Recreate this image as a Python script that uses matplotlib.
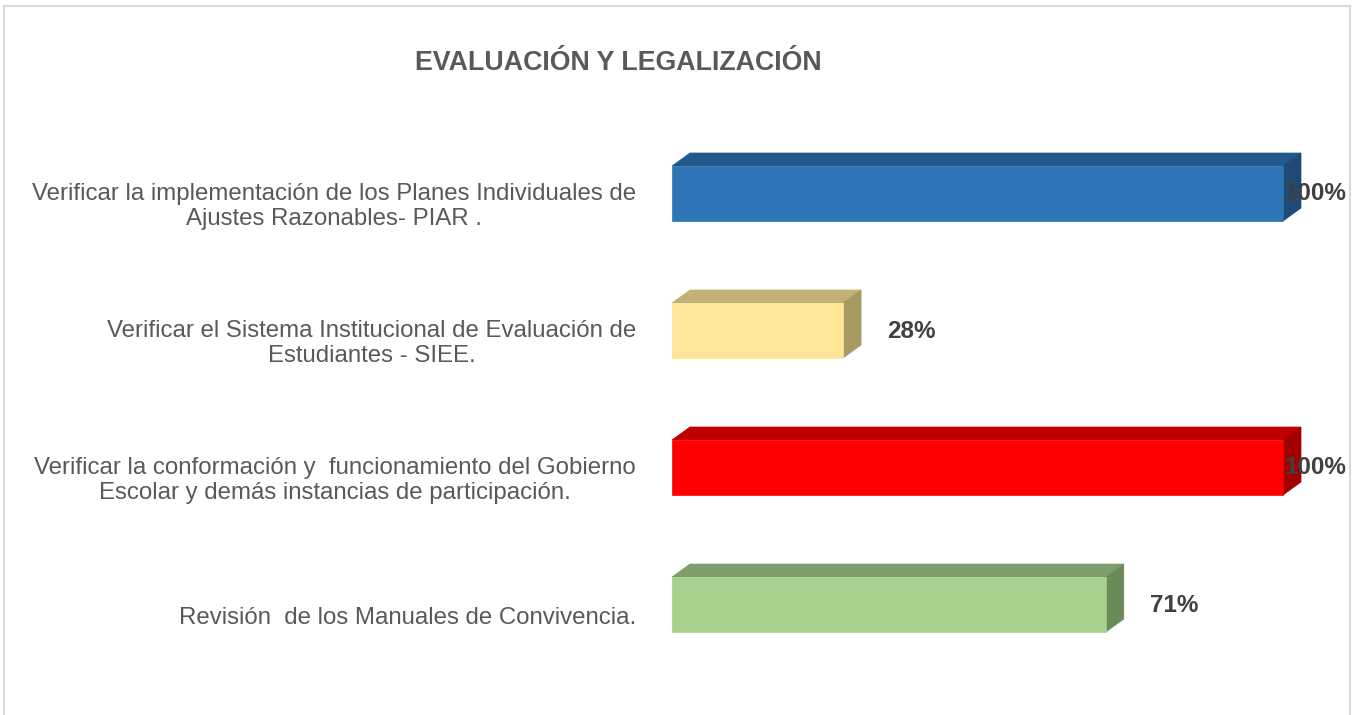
import matplotlib
matplotlib.use("Agg")
import matplotlib.pyplot as plt
from matplotlib.patches import Rectangle, Polygon

categories = [
    "Verificar la implementación de los Planes Individuales de\nAjustes Razonables- PIAR .",
    "Verificar el Sistema Institucional de Evaluación de\nEstudiantes - SIEE.",
    "Verificar la conformación y  funcionamiento del Gobierno\nEscolar y demás instancias de participación.",
    "Revisión  de los Manuales de Convivencia.",
]
values = [1.00, 0.28, 1.00, 0.71]
value_labels = ["100%", "28%", "100%", "71%"]
front_colors = ["#2E75B6", "#FFE699", "#FF0000", "#A9D18E"]
top_colors = ["#22598A", "#C4AF74", "#C00000", "#7F9C6A"]
side_colors = ["#1E4A75", "#A89A63", "#A00000", "#6B8A5A"]
title = "EVALUACIÓN Y LEGALIZACIÓN"

W, H = 1354, 715
fig = plt.figure(figsize=(W / 100, H / 100), dpi=100)
fig.patch.set_facecolor("white")

# outer frame
fig.patches.append(Rectangle((4 / W, -0.1), (1350 - 4) / W, (H - 6) / H + 0.1,
                             transform=fig.transFigure, fill=False,
                             edgecolor="#D9D9D9", linewidth=1.5))

# axes in pixel placement
x0, x1 = 672, 1283
ytop, ybot = 125, 673
ax = fig.add_axes([x0 / W, (H - ybot) / H, (x1 - x0) / W, (ybot - ytop) / H])
ax.set_xlim(0, 1)
ax.set_ylim(3.5, -0.5)
ax.axis("off")

px_x = 1.0 / (x1 - x0)          # data units per pixel in x
px_y = 4.0 / (ybot - ytop)      # data units per pixel in y
dx = 18 * px_x
dy = 13 * px_y
bh = 55 * px_y

for i, (v, fc, tc, sc) in enumerate(zip(values, front_colors, top_colors, side_colors)):
    top = i - bh / 2
    bot = i + bh / 2
    ax.add_patch(Polygon([(0, top), (v, top), (v + dx, top - dy), (dx, top - dy)],
                         closed=True, facecolor=tc, edgecolor=tc, linewidth=0.5, clip_on=False))
    ax.add_patch(Polygon([(v, top), (v + dx, top - dy), (v + dx, bot - dy), (v, bot)],
                         closed=True, facecolor=sc, edgecolor=sc, linewidth=0.5, clip_on=False))
    ax.add_patch(Rectangle((0, top), v, bh, facecolor=fc, edgecolor=fc,
                           linewidth=0.5, clip_on=False))
    lx = min(v + 68 * px_x, 1.0 + 32 * px_x)
    ax.text(lx, i + 0.5 * px_y, value_labels[i], ha="center", va="center",
            fontsize=17.5, fontweight="bold", color="#404040",
            family="Liberation Sans", clip_on=False)

# category labels
for i, c in enumerate(categories):
    off = 13 * px_y
    ax.text(-36 * px_x, i + off, c, ha="right", va="center", multialignment="center",
            fontsize=17.3, color="#595959", family="Liberation Sans",
            linespacing=1.18, clip_on=False)

fig.text(618 / W, 1 - 63 / H, title, ha="center", va="center", fontsize=19.3,
         fontweight="bold", color="#595959", family="Liberation Sans")

fig.savefig("out.png", dpi=100, facecolor="white")
